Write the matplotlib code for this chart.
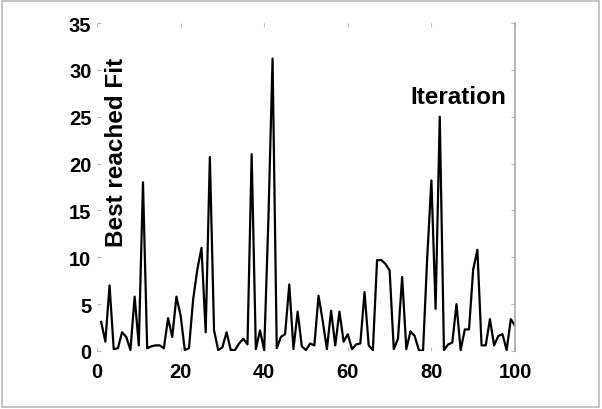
import numpy as np
import matplotlib.pyplot as plt
from matplotlib.patches import Rectangle

iterations = np.arange(1, 101)
best_fit = [
    3.1, 1.0, 7.0, 0.2, 0.3, 2.0, 1.5, 0.1, 5.8, 0.6,
    18.0, 0.3, 0.5, 0.6, 0.6, 0.3, 3.5, 1.5, 5.8, 3.8,
    0.1, 0.3, 5.5, 8.7, 11.0, 2.0, 20.7, 2.2, 0.1, 0.4,
    2.0, 0.1, 0.1, 0.8, 1.3, 0.7, 21.0, 0.2, 2.2, 0.1,
    14.0, 31.2, 0.3, 1.5, 1.8, 7.1, 0.2, 4.2, 0.5, 0.1,
    0.8, 0.6, 5.9, 3.2, 0.2, 4.3, 0.6, 4.2, 1.0, 1.8,
    0.2, 0.7, 0.8, 6.3, 0.6, 0.1, 9.7, 9.7, 9.3, 8.6,
    0.2, 1.3, 7.9, 0.2, 2.1, 1.6, 0.1, 0.0, 10.0, 18.2,
    4.5, 25.0, 0.1, 0.7, 0.9, 5.0, 0.1, 2.3, 2.3, 8.7,
    10.8, 0.6, 0.6, 3.4, 0.6, 1.6, 1.8, 0.1, 3.4, 2.7,
]
xticks = [0, 20, 40, 60, 80, 100]
yticks = [0, 5, 10, 15, 20, 25, 30, 35]

plt.rcParams['font.family'] = ['Liberation Sans', 'DejaVu Sans']
plt.rcParams['font.weight'] = 'bold'

fig = plt.figure(figsize=(6.02, 4.10), dpi=100)
ax = fig.add_axes([97 / 602, 1 - 352 / 410, (515 - 97) / 602, (352 - 24) / 410])

ax.plot(iterations, best_fit, color='black', linewidth=1.6)

ax.set_xlim(0, 100)
ax.set_ylim(0, 35)
ax.set_xticks(xticks)
ax.set_yticks(yticks)
ax.tick_params(direction='in', length=3, color='#bbbbbb', labelsize=14.5,
               top=True, right=True, pad=4)
ax.tick_params(axis='x', pad=8)
for lab in ax.get_xticklabels() + ax.get_yticklabels():
    lab.set_fontweight('bold')

for side in ['left', 'top', 'bottom']:
    ax.spines[side].set_visible(False)
ax.spines['right'].set_color('#aaaaaa')
ax.spines['right'].set_linewidth(1.2)

ax.set_ylabel('Best reached Fit', fontsize=17.5, fontweight='bold', va='center')
ax.yaxis.set_label_coords(0.046, 0.607)
ax.set_xlabel('Iteration', fontsize=17.5, fontweight='bold', va='center')
ax.xaxis.set_label_coords(0.864, 0.775)

# light frame around the whole picture
fig.patches.append(Rectangle((2 / 602, 2 / 410), 597 / 602, 406 / 410,
                             transform=fig.transFigure, fill=False,
                             edgecolor='#bbbbbb', linewidth=1.2))

fig.savefig('out.png', dpi=100)
